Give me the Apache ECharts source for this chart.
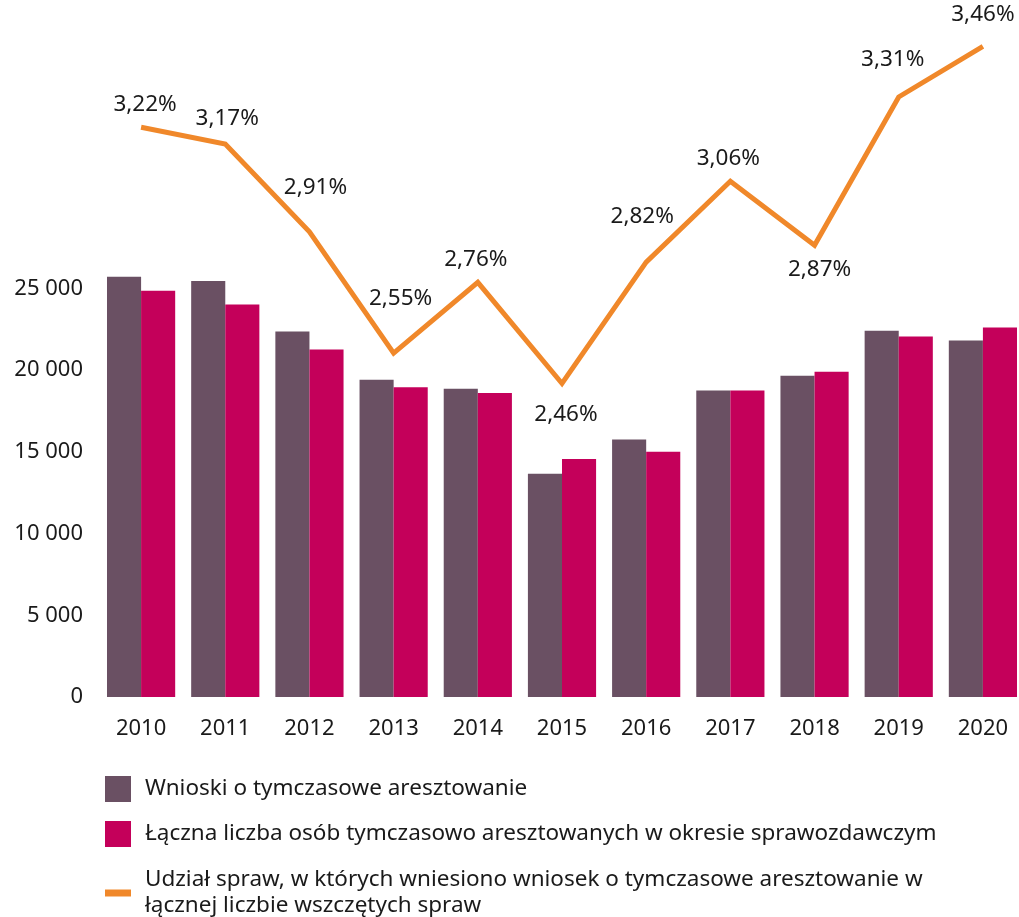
<!DOCTYPE html>
<html>
<head>
<meta charset="utf-8">
<script src="https://cdn.jsdelivr.net/npm/echarts@6/dist/echarts.min.js"></script>
<style>
  html, body { margin: 0; padding: 0; background: #fff; }
  #chart { width: 1019px; height: 917px; }
</style>
</head>
<body>
<div id="chart"></div>
<script>
// dane
const years = ['2010', '2011', '2012', '2013', '2014', '2015', '2016', '2017', '2018', '2019', '2020'];
const wnioski = [25700, 25450, 22350, 19400, 18850, 13650, 15750, 18750, 19650, 22400, 21800];
const aresztowani = [24850, 24000, 21250, 18950, 18600, 14550, 15000, 18750, 19900, 22050, 22600];
const udzial = [3.22, 3.17, 2.91, 2.55, 2.76, 2.46, 2.82, 3.06, 2.87, 3.31, 3.46];

const seriesNames = [
    'Wnioski o tymczasowe aresztowanie',
    'Łączna liczba osób tymczasowo aresztowanych w okresie sprawozdawczym',
    'Udział spraw, w których wniesiono wniosek o tymczasowe aresztowanie w łącznej liczbie wszczętych spraw'
];

// położenie etykiet procentowych
const labelPos = ['top', 'top', 'top', 'top', 'top', 'bottom', 'top', 'top', 'bottom', 'top', 'top'];
const labelOffsets = [[4, -1], [2, -4], [6, -22], [7, -33], [-2, -1], [4, 9], [-4, -24], [-2, -1], [5, 2], [-6, -15], [0, -10]];

const font = '"Noto Sans", sans-serif';
const textColor = '#1a1a1a';
const colors = ['#6a5063', '#c4005a', '#f0882a'];

function legendAt(top, idx, icon) {
    return {
        orient: 'vertical',
        left: 100,
        top: top,
        itemWidth: 26,
        itemHeight: 26,
        selectedMode: false,
        textStyle: { color: textColor, fontSize: 22.5, fontFamily: font, padding: [0, 0, 0, 9], lineHeight: 26 },
        formatter: function (n) {
            if (n === seriesNames[2]) {
                return 'Udział spraw, w których wniesiono wniosek o tymczasowe aresztowanie w\nłącznej liczbie wszczętych spraw';
            }
            return n;
        },
        data: [{ name: seriesNames[idx], icon: icon, itemStyle: { color: colors[idx], opacity: 1 } }]
    };
}

var myChart = echarts.init(document.getElementById('chart'));

var option = {
    animation: false,
    textStyle: { fontFamily: font },
    grid: {
        left: 99,
        width: 926,
        top: 43,
        height: 654,
        outerBoundsMode: 'none'
    },
    legend: [
        legendAt(771, 0, 'rect'),
        legendAt(816, 1, 'rect'),
        legendAt(862, 2, 'path://M0,0H26V7H0Z')
    ],
    xAxis: {
        type: 'category',
        data: years,
        axisLine: { show: false },
        axisTick: { show: false },
        axisLabel: { color: textColor, fontSize: 22, margin: 21 }
    },
    yAxis: [
        {
            type: 'value',
            min: 0,
            max: 40000,
            interval: 5000,
            splitLine: { show: false },
            axisLine: { show: false },
            axisTick: { show: false },
            axisLabel: {
                color: textColor,
                fontSize: 22,
                margin: 16,
                formatter: function (v) {
                    if (v > 25000) return '';
                    return v === 0 ? '0' : String(v).replace(/(\d)(?=(\d{3})+$)/g, '$1 ');
                }
            }
        },
        {
            type: 'value',
            min: 1.53,
            max: 3.47,
            show: false,
            splitLine: { show: false }
        }
    ],
    series: [
        {
            name: seriesNames[0],
            type: 'bar',
            data: wnioski,
            barGap: 0,
            barCategoryGap: '19%',
            itemStyle: { color: colors[0] }
        },
        {
            name: seriesNames[1],
            type: 'bar',
            data: aresztowani,
            itemStyle: { color: colors[1] }
        },
        {
            name: seriesNames[2],
            type: 'line',
            yAxisIndex: 1,
            data: udzial.map(function (v, i) {
                return {
                    value: v,
                    label: { position: labelPos[i], offset: labelOffsets[i] }
                };
            }),
            symbol: 'circle',
            symbolSize: 1,
            showSymbol: true,
            lineStyle: { color: colors[2], width: 5, join: 'miter' },
            itemStyle: { color: 'rgba(0,0,0,0)' },
            label: {
                show: true,
                color: textColor,
                fontSize: 22.5,
                distance: 10,
                formatter: function (p) {
                    return p.value.toFixed(2).replace('.', ',') + '%';
                }
            }
        }
    ]
};

myChart.setOption(option);
</script>
</body>
</html>
